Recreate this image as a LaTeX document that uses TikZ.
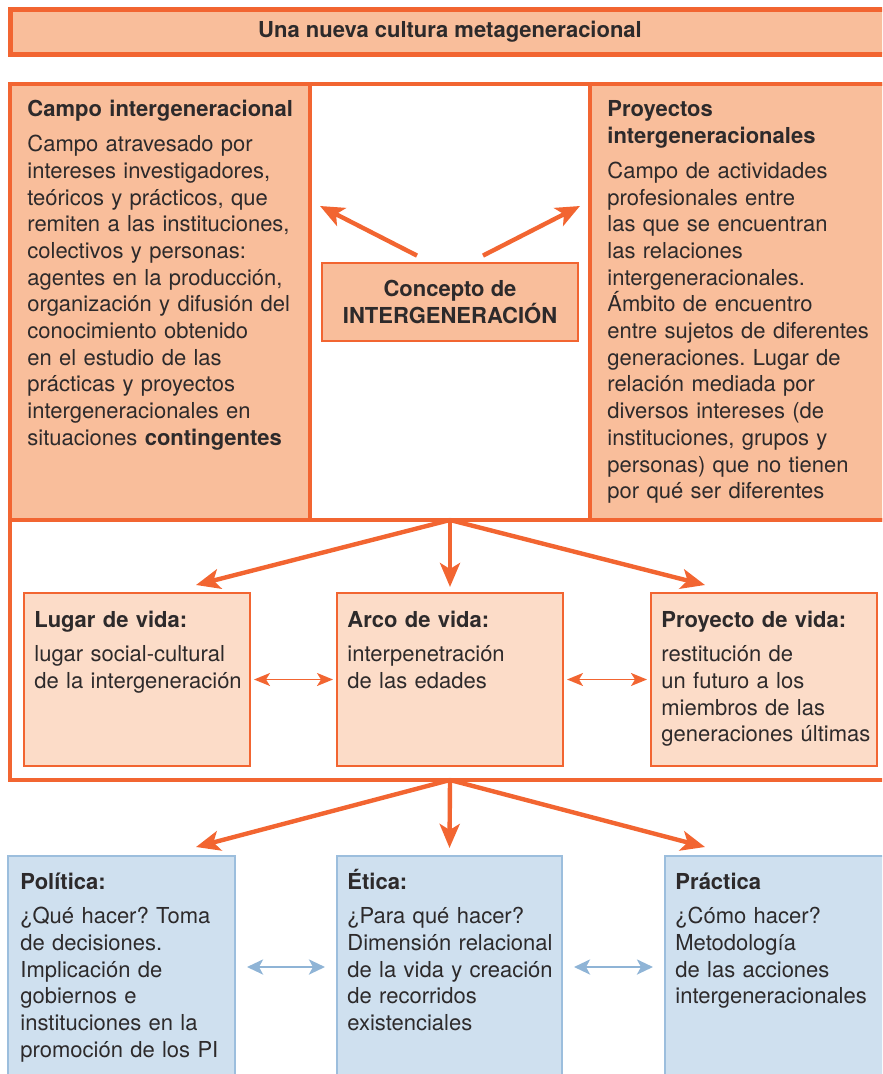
\documentclass[tikz,border=0pt]{standalone}
\usepackage{fontspec}
\setmainfont{TeX Gyre Heros}
\usepackage{xcolor}
\usepackage{tikz}
\usetikzlibrary{arrows.meta}
\usetikzlibrary{positioning}

\definecolor{naranja}{RGB}{242,101,49}
\definecolor{melocoton}{RGB}{249,190,155}
\definecolor{melocotonclaro}{RGB}{252,220,200}
\definecolor{azulfondo}{RGB}{207,224,239}
\definecolor{azulborde}{RGB}{156,190,221}
\definecolor{azulflecha}{RGB}{143,180,214}
\definecolor{gristexto}{RGB}{45,42,43}

\frenchspacing

\begin{document}
\begin{tikzpicture}[
    x=0.5pt, y=-0.5pt,
    banda/.style={draw=naranja, line width=2.5pt, fill=melocoton, minimum width=440pt, minimum height=22.5pt, inner sep=0pt, font=\fontsize{11}{13.35}\selectfont\bfseries, text=gristexto},
    caja/.style={draw=naranja, line width=2.25pt, fill=melocoton, anchor=north west, inner sep=0pt, outer sep=0pt},
    cajavida/.style={draw=naranja, line width=1.2pt, fill=melocotonclaro, anchor=north west, inner sep=0pt, outer sep=0pt, minimum width=113pt, minimum height=86.5pt},
    cajaazul/.style={draw=azulborde, line width=1.1pt, fill=azulfondo, anchor=north west, inner sep=0pt, outer sep=0pt, minimum height=111pt},
    concepto/.style={draw=naranja, line width=1.4pt, fill=melocoton, minimum width=128pt, minimum height=39pt, align=center, font=\fontsize{11}{13.35}\selectfont\bfseries, text=gristexto},
    texto/.style={anchor=base west, inner sep=0pt, align=left, text width=145pt, text=gristexto, font=\fontsize{11}{13.35}\selectfont},
    flecha/.style={draw=naranja, line width=2.2pt, -{Stealth[length=12pt, width=10pt, inset=3pt]}},
    doble/.style={draw=naranja, line width=0.9pt, {Stealth[length=8pt, width=6.5pt, inset=2pt]}-{Stealth[length=8pt, width=6.5pt, inset=2pt]}, shorten <=2pt, shorten >=2pt},
    dobleazul/.style={draw=azulflecha, line width=1.4pt, {Stealth[length=8pt, width=7.5pt, inset=2pt]}-{Stealth[length=8pt, width=7.5pt, inset=2pt]}, shorten <=6pt, shorten >=6pt}
]
\useasboundingbox (0,0) rectangle (882,1074);
\clip (0,0) rectangle (882,1074);

% Banda superior
\node[banda] (cultura) at (450,32) {Una nueva cultura metageneracional};

% Marco central
\node[caja, minimum width=150pt, minimum height=218pt] (campo) at (10,84) {};
\node[caja, minimum width=150pt, minimum height=218pt] (proyectos) at (590,84) {};
\draw[naranja, line width=2.25pt] (10,84) rectangle (890,780);
\draw[naranja, line width=2.25pt] (campo.south west) -- (proyectos.south east);

\node[texto] (campoTxt) at (27,117) {\textbf{Campo intergeneracional}\\[4pt]
Campo atravesado por\\
intereses investigadores,\\
teóricos y prácticos, que\\
remiten a las instituciones,\\
colectivos y personas:\\
agentes en la producción,\\
organización y difusión del\\
conocimiento obtenido\\
en el estudio de las\\
prácticas y proyectos\\
intergeneracionales en\\
situaciones \textbf{contingentes}};

\node[texto] (proyectosTxt) at (607,117) {\textbf{Proyectos}\\
\textbf{intergeneracionales}\\[4pt]
Campo de actividades\\
profesionales entre\\
las que se encuentran\\
las relaciones\\
intergeneracionales.\\
Ámbito de encuentro\\
entre sujetos de diferentes\\
generaciones. Lugar de\\
relación mediada por\\
diversos intereses (de\\
instituciones, grupos y\\
personas) que no tienen\\
por qué ser diferentes};

\node[concepto] (concepto) at (450,302) {Concepto de\\INTERGENERACIÓN};

% Cajas de vida
\node[cajavida] (lugar) at (24,593) {};
\node[cajavida] (arco) at (337,593) {};
\node[cajavida] (proyvida) at (651,593) {};

\node[texto] (lugarTxt) at (34,627) {\textbf{Lugar de vida:}\\[4pt]
lugar social-cultural\\
de la intergeneración};
\node[texto] (arcoTxt) at (347,627) {\textbf{Arco de vida:}\\[4pt]
interpenetración\\
de las edades};
\node[texto] (proyvidaTxt) at (661,627) {\textbf{Proyecto de vida:}\\[4pt]
restitución de\\
un futuro a los\\
miembros de las\\
generaciones últimas};

% Cajas azules
\node[cajaazul, minimum width=113.5pt] (politica) at (8,856) {};
\node[cajaazul, minimum width=112.5pt] (etica) at (337,856) {};
\node[cajaazul, minimum width=115pt] (practica) at (665,856) {};

\node[texto] (politicaTxt) at (20,889) {\textbf{Política:}\\[4pt]
¿Qué hacer? Toma\\
de decisiones.\\
Implicación de\\
gobiernos e\\
instituciones en la\\
promoción de los PI};
\node[texto] (eticaTxt) at (347,889) {\textbf{Ética:}\\[4pt]
¿Para qué hacer?\\
Dimensión relacional\\
de la vida y creación\\
de recorridos\\
existenciales};
\node[texto] (practicaTxt) at (675,889) {\textbf{Práctica}\\[4pt]
¿Cómo hacer?\\
Metodología\\
de las acciones\\
intergeneracionales};

% Flechas
\coordinate (salida1) at (450,520);
\coordinate (salida2) at (450,780);

\draw[flecha] ([xshift=-16.5pt, yshift=3pt]concepto.north) -- ([xshift=5pt, yshift=48pt]campo.east);
\draw[flecha] ([xshift=16.5pt, yshift=3pt]concepto.north) -- ([xshift=-5pt, yshift=48pt]proyectos.west);

\draw[flecha] (salida1) -- ([xshift=-27pt, yshift=4pt]lugar.north east);
\draw[flecha] (salida1) -- ([yshift=3pt]arco.north);
\draw[flecha] (salida1) -- ([xshift=27pt, yshift=4pt]proyvida.north west);

\draw[doble] (lugar) -- (arco);
\draw[doble] (arco) -- (proyvida);

\draw[flecha] (salida2) -- ([xshift=-19.5pt, yshift=4.5pt]politica.north east);
\draw[flecha] (salida2) -- ([yshift=4pt]etica.north);
\draw[flecha] (salida2) -- ([xshift=20pt, yshift=4.5pt]practica.north west);

\draw[dobleazul] (politica) -- (etica);
\draw[dobleazul] (etica) -- (practica);

\end{tikzpicture}
\end{document}
